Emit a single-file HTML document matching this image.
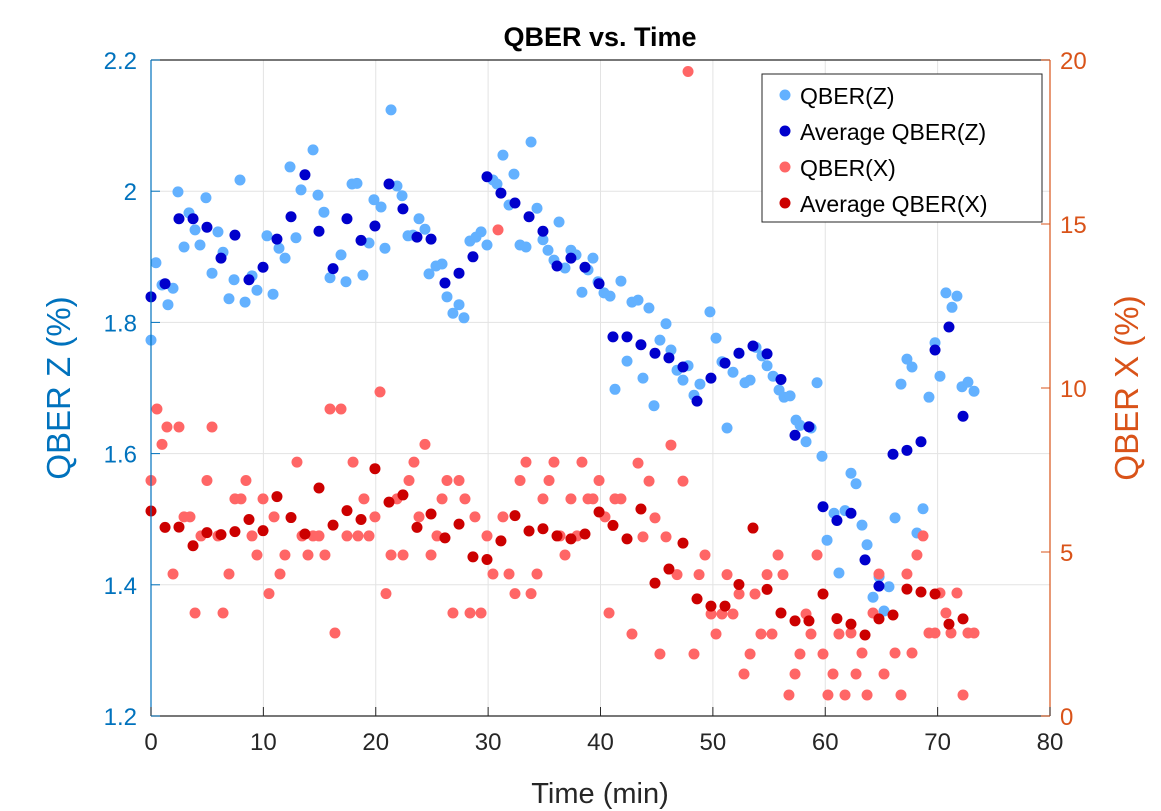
<!DOCTYPE html>
<html><head><meta charset="utf-8">
<style>
body{margin:0;background:#fff;}
svg{display:block;font-family:"Liberation Sans",sans-serif;}
</style></head>
<body>
<svg id="chart" width="1161" height="811">
<rect width="1161" height="811" fill="#fff"/>
<g id="grid"></g>
<g id="marks"></g>
<g id="axes"></g>
<text x="600" y="46" text-anchor="middle" font-size="27" font-weight="bold" fill="#000">QBER vs. Time</text>
<text x="600" y="803" text-anchor="middle" font-size="29" fill="#262626">Time (min)</text>
<text transform="translate(70,388) rotate(-90)" text-anchor="middle" font-size="33" fill="#0072BD">QBER Z (%)</text>
<text transform="translate(1138,388) rotate(-90)" text-anchor="middle" font-size="33" fill="#D95319">QBER X (%)</text>
<g id="legend">
<rect x="762" y="74" width="280" height="148" fill="#fff" stroke="#262626" stroke-width="1"/>
<circle cx="785" cy="95" r="5.5" fill="#63B1FF"/>
<text x="800" y="104" font-size="23" fill="#000">QBER(Z)</text>
<circle cx="785" cy="131" r="5.5" fill="#0000CC"/>
<text x="800" y="140" font-size="23" fill="#000">Average QBER(Z)</text>
<circle cx="785" cy="167" r="5.5" fill="#FF6666"/>
<text x="800" y="176" font-size="23" fill="#000">QBER(X)</text>
<circle cx="785" cy="203" r="5.5" fill="#CC0000"/>
<text x="800" y="212" font-size="23" fill="#000">Average QBER(X)</text>
</g>
</svg>
<script>
const xTicks=[0,10,20,30,40,50,60,70,80];
const zTicks=[1.2,1.4,1.6,1.8,2.0,2.2];
const zTickLabels=["1.2","1.4","1.6","1.8","2","2.2"];
const xqTicks=[0,5,10,15,20];

const zT=[0,0.44,0.98,1.51,1.96,2.40,2.94,3.38,3.92,4.36,4.89,5.43,5.96,6.41,6.94,7.39,7.92,8.37,8.99,9.43,10.32,10.86,11.39,11.93,12.37,12.90,13.35,14.42,14.86,15.39,15.93,16.91,17.35,17.89,18.33,18.86,19.40,19.84,20.47,20.82,21.36,21.89,22.34,22.87,23.31,23.85,24.38,24.74,25.36,25.90,26.34,26.87,27.41,27.85,28.38,28.92,29.37,29.90,30.43,30.79,31.32,31.86,32.30,32.84,33.37,33.82,34.35,34.88,35.33,35.86,36.31,36.84,37.37,37.82,38.35,38.89,39.33,39.78,40.31,40.85,41.29,41.82,42.36,42.80,43.34,43.78,44.31,44.76,45.29,45.83,46.27,46.81,47.34,47.79,48.32,48.85,49.74,50.28,50.81,51.26,51.79,52.33,52.86,53.31,53.84,54.37,54.82,55.36,55.89,56.33,56.87,57.40,57.76,58.29,58.74,59.27,59.71,60.16,60.78,61.22,61.76,62.29,62.74,63.27,63.72,64.25,64.79,65.23,65.67,66.21,66.74,67.27,67.72,68.16,68.70,69.23,69.77,70.21,70.74,71.28,71.72,72.17,72.70,73.24];
const zV=[1.773,1.891,1.857,1.827,1.852,1.999,1.915,1.967,1.941,1.918,1.990,1.875,1.938,1.907,1.836,1.865,2.017,1.831,1.871,1.849,1.932,1.843,1.913,1.898,2.037,1.929,2.002,2.063,1.994,1.968,1.868,1.903,1.862,2.011,2.012,1.872,1.921,1.987,1.976,1.913,2.124,2.008,1.993,1.932,1.933,1.958,1.942,1.874,1.886,1.889,1.839,1.814,1.827,1.807,1.924,1.930,1.938,1.918,2.017,2.011,2.055,1.979,2.026,1.918,1.915,2.075,1.974,1.926,1.910,1.895,1.953,1.883,1.910,1.903,1.846,1.880,1.898,1.862,1.845,1.840,1.698,1.863,1.741,1.831,1.834,1.715,1.822,1.673,1.773,1.798,1.758,1.727,1.712,1.734,1.689,1.706,1.816,1.776,1.740,1.639,1.724,1.753,1.708,1.712,1.762,1.749,1.734,1.718,1.697,1.686,1.688,1.651,1.643,1.618,1.639,1.708,1.596,1.468,1.509,1.418,1.513,1.570,1.554,1.491,1.461,1.381,1.412,1.360,1.397,1.502,1.706,1.744,1.732,1.479,1.516,1.686,1.769,1.718,1.845,1.823,1.840,1.702,1.709,1.695];

const avgT=[0,1.25,2.49,3.74,4.98,6.23,7.47,8.72,9.97,11.21,12.46,13.70,14.95,16.20,17.44,18.69,19.93,21.18,22.42,23.67,24.92,26.16,27.41,28.65,29.90,31.14,32.39,33.64,34.88,36.13,37.37,38.62,39.87,41.11,42.36,43.60,44.85,46.09,47.34,48.59,49.83,51.08,52.32,53.57,54.82,56.06,57.31,58.55,59.80,61.04,62.29,63.54,64.78,66.03,67.27,68.52,69.77,71.01,72.26];
const avgZ=[1.839,1.859,1.958,1.958,1.945,1.898,1.933,1.865,1.884,1.927,1.961,2.025,1.939,1.882,1.958,1.925,1.947,2.011,1.973,1.930,1.927,1.860,1.875,1.900,2.022,1.997,1.982,1.961,1.939,1.886,1.898,1.884,1.859,1.778,1.778,1.766,1.753,1.746,1.732,1.680,1.715,1.738,1.753,1.764,1.752,1.713,1.628,1.641,1.519,1.498,1.509,1.438,1.398,1.599,1.605,1.618,1.758,1.793,1.657];
const avgX=[6.25,5.75,5.76,5.19,5.59,5.53,5.62,5.99,5.65,6.69,6.05,5.55,6.95,5.82,6.26,5.99,7.54,6.52,6.74,5.75,6.16,5.43,5.85,4.85,4.77,5.34,6.11,5.64,5.71,5.49,5.40,5.55,6.22,5.81,5.40,6.31,4.05,4.48,5.27,3.57,3.35,3.35,4.01,5.73,3.86,3.14,2.90,2.90,3.72,2.97,2.80,2.47,2.96,3.08,3.87,3.78,3.72,2.80,2.96];

const xT=[0,0.53,0.98,1.42,1.96,2.49,2.94,3.47,3.92,4.45,4.98,5.43,5.96,6.41,6.94,7.47,8.01,8.45,8.99,9.43,9.97,10.50,10.95,11.48,11.92,12.99,13.44,13.97,14.42,14.95,15.48,15.93,16.37,16.91,17.44,17.98,18.42,18.95,19.40,19.93,20.38,20.91,21.36,21.89,22.43,22.96,23.40,23.85,24.38,24.92,25.45,25.90,26.34,26.87,27.41,27.94,28.39,28.83,29.37,29.90,30.43,30.88,31.32,31.86,32.39,32.84,33.37,33.82,34.35,34.88,35.42,35.86,36.40,36.84,37.37,37.91,38.35,38.89,39.33,39.87,40.40,40.76,41.29,41.82,42.80,43.34,43.78,44.32,44.85,45.29,45.83,46.27,46.81,47.34,47.79,48.32,48.77,49.30,49.84,50.28,50.81,51.26,51.79,52.33,52.77,53.31,53.75,54.28,54.82,55.26,55.80,56.24,56.77,57.31,57.75,58.29,58.73,59.27,59.80,60.24,60.69,61.22,61.76,62.29,62.74,63.27,63.72,64.25,64.78,65.23,66.21,66.74,67.27,67.72,68.16,68.70,69.23,69.77,70.21,70.74,71.19,71.72,72.26,72.70,73.24];
const xV=[7.18,9.36,8.28,8.81,4.33,8.81,6.07,6.07,3.14,5.49,7.18,8.81,5.49,3.14,4.33,6.62,6.62,7.18,5.49,4.91,6.62,3.73,6.07,4.33,4.91,7.74,5.49,4.91,5.49,5.49,4.91,9.36,2.53,9.36,5.49,7.74,5.49,6.62,5.49,6.07,9.88,3.73,4.91,6.62,4.91,7.18,7.74,6.07,8.28,4.91,5.49,6.62,7.18,3.14,7.18,6.62,3.14,6.07,3.14,5.49,4.33,14.82,6.07,4.33,3.73,7.18,7.74,3.73,4.33,6.62,7.18,7.74,5.49,4.91,6.62,5.49,7.74,6.62,6.62,7.18,6.07,3.14,6.62,6.62,2.50,7.71,5.46,7.16,6.04,1.89,5.46,8.26,4.31,7.16,19.65,1.89,4.31,4.91,3.11,2.50,3.11,4.31,3.11,3.72,1.28,1.89,3.72,2.50,4.31,2.50,4.91,4.31,0.64,1.28,1.89,3.11,2.50,4.91,1.89,0.64,1.28,2.50,0.64,2.53,1.28,1.92,0.64,3.14,4.33,1.28,1.92,0.64,4.33,1.92,4.91,5.49,2.53,2.53,3.75,3.14,2.53,3.75,0.64,2.53,2.53];

const L=151,R=1050,T=60,B=716;
const sx=t=>L+(t-0)/(80-0)*(R-L);
const sz=v=>B-(v-1.2)/(2.2-1.2)*(B-T);
const sq=v=>B-(v-0)/(20-0)*(B-T);
const NS="http://www.w3.org/2000/svg";
function mk(tag,attrs,parent){const e=document.createElementNS(NS,tag);for(const k in attrs)e.setAttribute(k,attrs[k]);parent.appendChild(e);return e;}
const grid=document.getElementById('grid'),marks=document.getElementById('marks'),axes=document.getElementById('axes');

xTicks.forEach(t=>{const l=mk('line',{x1:sx(t),x2:sx(t),y1:T,y2:B,stroke:'#e3e3e3','stroke-width':1},grid);

});
zTicks.forEach(v=>{const l=mk('line',{x1:L,x2:R,y1:sz(v),y2:sz(v),stroke:'#e3e3e3','stroke-width':1},grid);

});

function series(ts,vs,scale,color,name){
  for(let i=0;i<ts.length;i++){
    const c=mk('circle',{cx:sx(ts[i]),cy:scale(vs[i]),r:5.5,fill:color},marks);
    
    
  }
}
series(zT,zV,sz,'#63B1FF','qber-z-point');
series(avgT,avgZ,sz,'#0000CC','avg-qber-z-point');
series(xT,xV,sq,'#FF6666','qber-x-point');
series(avgT,avgX,sq,'#CC0000','avg-qber-x-point');

let a;
a=mk('line',{x1:L,x2:R,y1:B,y2:B,stroke:'#262626','stroke-width':1.2},axes);


a=mk('line',{x1:L,x2:R,y1:T,y2:T,stroke:'#262626','stroke-width':1.2},axes);


a=mk('line',{x1:L,x2:L,y1:T,y2:B,stroke:'#0072BD','stroke-width':1.2},axes);


a=mk('line',{x1:R,x2:R,y1:T,y2:B,stroke:'#D95319','stroke-width':1.2},axes);



xTicks.forEach(t=>{
  const tk=mk('line',{x1:sx(t),x2:sx(t),y1:B,y2:B-9,stroke:'#262626','stroke-width':1},axes);
  
  
  const tx=mk('text',{x:sx(t),y:B+34,'text-anchor':'middle','font-size':24,fill:'#262626'},axes);
  tx.textContent=String(t);
  
  
});
zTicks.forEach((v,i)=>{
  const tk=mk('line',{x1:L,x2:L+9,y1:sz(v),y2:sz(v),stroke:'#0072BD','stroke-width':1},axes);
  
  
  const tx=mk('text',{x:L-14,y:sz(v)+9,'text-anchor':'end','font-size':24,fill:'#0072BD'},axes);
  tx.textContent=zTickLabels[i];
  
  
});
xqTicks.forEach(v=>{
  const tk=mk('line',{x1:R,x2:R-9,y1:sq(v),y2:sq(v),stroke:'#D95319','stroke-width':1},axes);
  
  
  const tx=mk('text',{x:R+10,y:sq(v)+9,'text-anchor':'start','font-size':24,fill:'#D95319'},axes);
  tx.textContent=String(v);
  
  
});
</script>
</body></html>
